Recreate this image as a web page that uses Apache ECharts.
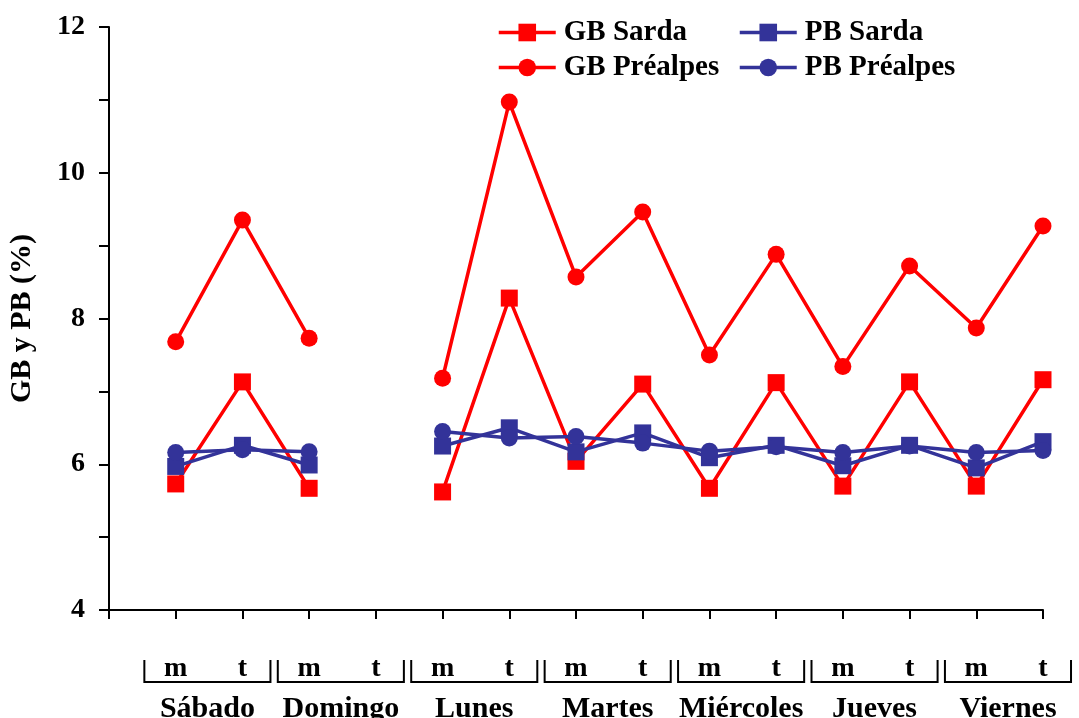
<!DOCTYPE html>
<html>
<head>
<meta charset="utf-8">
<script src="https://cdn.jsdelivr.net/npm/echarts@6/dist/echarts.min.js"></script>
<style>
html,body{margin:0;padding:0;background:#fff;}
#chart{width:1079px;height:718px;}
</style>
</head>
<body>
<div id="chart"></div>
<script>
// Category slots (first slot is empty, at the y axis)
var categories = ['', 'm', 't', 'm', 't', 'm', 't', 'm', 't', 'm', 't', 'm', 't', 'm', 't'];
var days = ['Sábado', 'Domingo', 'Lunes', 'Martes', 'Miércoles', 'Jueves', 'Viernes'];
var dayMorningIndex = [1, 3, 5, 7, 9, 11, 13];

var gbSarda     = [null, 5.73, 7.13, 5.67, null, 5.62, 8.28, 6.04, 7.10, 5.67, 7.12, 5.70, 7.13, 5.70, 7.16];
var gbPrealpes  = [null, 7.68, 9.35, 7.73, null, 7.18, 10.97, 8.57, 9.46, 7.50, 8.88, 7.34, 8.72, 7.87, 9.27];
var pbSarda     = [null, 5.97, 6.26, 5.99, null, 6.25, 6.50, 6.17, 6.43, 6.09, 6.26, 5.98, 6.26, 5.95, 6.31];
var pbPrealpes  = [null, 6.16, 6.20, 6.17, null, 6.45, 6.36, 6.38, 6.29, 6.18, 6.24, 6.16, 6.25, 6.16, 6.19];

var yTicks = { min: 4, max: 12, step: 1, labelEvery: 2 };

var FONT = "'Liberation Serif', 'Times New Roman', serif";
var RED = '#FF0000';
var BLUE = '#333399';

function lineSeries(name, data, color, symbol) {
  return {
    name: name,
    type: 'line',
    data: data,
    connectNulls: false,
    symbol: symbol,
    symbolSize: 17,
    lineStyle: { color: color, width: 3.5 },
    itemStyle: { color: color },
    emphasis: { disabled: true },
    animation: false
  };
}

var bracketData = days.map(function (d, i) {
  return { name: d, value: [dayMorningIndex[i], dayMorningIndex[i] + 1, yTicks.min] };
});

var chart = echarts.init(document.getElementById('chart'), null, { renderer: 'canvas' });

function legendCfg(names, left) {
  return {
    data: names,
    orient: 'vertical', left: left, top: 18, padding: 0,
    itemWidth: 57, itemHeight: 22, itemGap: 6,
    lineStyle: { width: 3.5 },
    textStyle: { fontFamily: FONT, fontWeight: 'bold', fontSize: 29, color: '#000', padding: [0, 0, 0, 3] }
  };
}

var option = {
  backgroundColor: '#ffffff',
  animation: false,
  grid: { left: 109, right: 36, top: 27, bottom: 108, outerBoundsMode: 'none' },
  legend: [
    legendCfg(['GB Sarda', 'GB Préalpes'], 497),
    legendCfg(['PB Sarda', 'PB Préalpes'], 738)
  ],
  xAxis: {
    type: 'category',
    data: categories,
    boundaryGap: false,
    axisLine: { show: true, lineStyle: { color: '#000', width: 2 } },
    axisTick: { show: true, interval: 0, length: 9, lineStyle: { color: '#000', width: 2 } },
    axisLabel: { interval: 0, margin: 45, fontFamily: FONT, fontWeight: 'bold', fontSize: 28, color: '#000' },
    splitLine: { show: false }
  },
  yAxis: {
    type: 'value',
    min: yTicks.min, max: yTicks.max, interval: yTicks.step,
    name: 'GB y PB (%)',
    nameLocation: 'middle',
    nameGap: 72,
    nameTextStyle: { fontFamily: FONT, fontWeight: 'bold', fontSize: 30, color: '#000' },
    axisLine: { show: true, lineStyle: { color: '#000', width: 2 } },
    axisTick: { show: true, inside: false, length: 10, lineStyle: { color: '#000', width: 2 } },
    axisLabel: {
      margin: 24, fontFamily: FONT, fontWeight: 'bold', fontSize: 28, color: '#000',
      formatter: function (v) { return (v % yTicks.labelEvery === 0) ? String(v) : ''; }
    },
    splitLine: { show: false }
  },
  series: [
    lineSeries('GB Sarda', gbSarda, RED, 'rect'),
    lineSeries('GB Préalpes', gbPrealpes, RED, 'circle'),
    lineSeries('PB Sarda', pbSarda, BLUE, 'rect'),
    lineSeries('PB Préalpes', pbPrealpes, BLUE, 'circle'),
    {
      name: 'days',
      type: 'custom',
      silent: true,
      clip: false,
      animation: false,
      encode: { x: [0, 1], y: 2 },
      data: bracketData,
      renderItem: function (params, api) {
        var pm = api.coord([api.value(0), api.value(2)]);
        var pt = api.coord([api.value(1), api.value(2)]);
        var step = pt[0] - pm[0];
        var x0 = pm[0] - 0.47 * step;
        var x1 = pt[0] + 0.42 * step;
        var yb = pm[1];
        var yTop = yb + 50, yBot = yb + 72;
        return {
          type: 'group',
          children: [
            {
              type: 'polyline',
              shape: { points: [[x0, yTop], [x0, yBot], [x1, yBot], [x1, yTop]] },
              style: { stroke: '#000', lineWidth: 2, fill: null }
            },
            {
              type: 'text',
              style: {
                text: days[params.dataIndex],
                x: (x0 + x1) / 2, y: yb + 99,
                align: 'center', verticalAlign: 'middle',
                fontFamily: FONT, fontWeight: 'bold', fontSize: 30, fill: '#000'
              }
            }
          ]
        };
      }
    }
  ]
};

chart.setOption(option);
</script>
</body>
</html>
